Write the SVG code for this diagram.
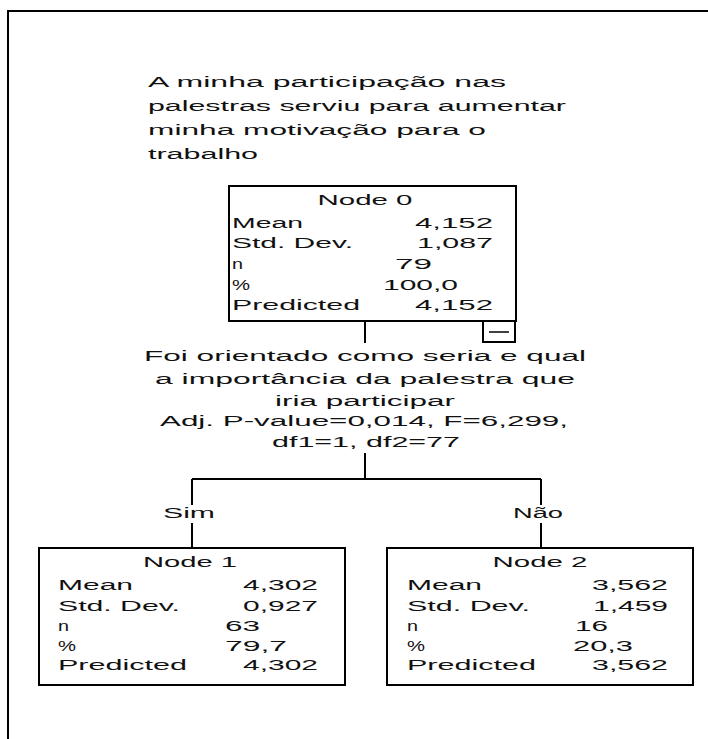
<svg xmlns="http://www.w3.org/2000/svg" width="708" height="739" viewBox="0 0 708 739">
  <style>
    text { font-family: "Liberation Sans", Arial, sans-serif; font-size: 14px; fill: #111; }
    .mid { text-anchor: middle; }
    .end { text-anchor: end; }
    .box { fill: #fff; stroke: #000; stroke-width: 2; }
    .ln { fill: none; stroke: #000; stroke-width: 2; }
    .thin { fill: none; stroke: #000; stroke-width: 1.5; }
  </style>
  <rect width="708" height="739" fill="#fff"/>
  <!-- outer frame -->
  <path class="ln" d="M8,739 V11 H708"/>

  <!-- dependent variable title -->
  <g id="title">
    <text x="148" y="87" textLength="358" lengthAdjust="spacingAndGlyphs">A minha participação nas</text>
    <text x="148" y="111" textLength="418" lengthAdjust="spacingAndGlyphs">palestras serviu para aumentar</text>
    <text x="148" y="135" textLength="338" lengthAdjust="spacingAndGlyphs">minha motivação para o</text>
    <text x="148" y="159" textLength="110" lengthAdjust="spacingAndGlyphs">trabalho</text>
  </g>

  <!-- connectors -->
  <g id="connectors">
    <path class="ln" d="M365,321 V343"/>
    <path class="ln" d="M365,453 V479"/>
    <path class="ln" d="M192,479 H541"/>
    <path class="ln" d="M192,479 V505 M192,523 V548"/>
    <path class="ln" d="M541,479 V505 M541,523 V548"/>
    <text class="mid" x="189" y="518" textLength="52" lengthAdjust="spacingAndGlyphs">Sim</text>
    <text class="mid" x="538" y="518" textLength="50" lengthAdjust="spacingAndGlyphs">Não</text>
  </g>

  <!-- split description -->
  <g id="split">
    <text class="mid" x="365" y="361" textLength="442" lengthAdjust="spacingAndGlyphs">Foi orientado como seria e qual</text>
    <text class="mid" x="365" y="384" textLength="420" lengthAdjust="spacingAndGlyphs">a importância da palestra que</text>
    <text class="mid" x="365" y="406" textLength="180" lengthAdjust="spacingAndGlyphs">iria participar</text>
    <text class="mid" x="364" y="426" textLength="408" lengthAdjust="spacingAndGlyphs">Adj. P-value=0,014, F=6,299,</text>
    <text class="mid" x="366" y="447" textLength="188" lengthAdjust="spacingAndGlyphs">df1=1, df2=77</text>
  </g>

  <!-- Node 0 -->
  <g id="node0">
    <rect class="box" x="229" y="186" width="287" height="135"/>
    <text class="mid" x="365" y="205" textLength="95" lengthAdjust="spacingAndGlyphs">Node 0</text>
    <text x="232" y="228" textLength="71" lengthAdjust="spacingAndGlyphs">Mean</text>
    <text class="end" x="493" y="228" textLength="78" lengthAdjust="spacingAndGlyphs">4,152</text>
    <text x="232" y="248" textLength="121" lengthAdjust="spacingAndGlyphs">Std. Dev.</text>
    <text class="end" x="493" y="248" textLength="76" lengthAdjust="spacingAndGlyphs">1,087</text>
    <text x="232" y="269" textLength="11" lengthAdjust="spacingAndGlyphs">n</text>
    <text x="395" y="269" textLength="37" lengthAdjust="spacingAndGlyphs">79</text>
    <text x="232" y="290" textLength="18" lengthAdjust="spacingAndGlyphs">%</text>
    <text x="383" y="290" textLength="75" lengthAdjust="spacingAndGlyphs">100,0</text>
    <text x="232" y="310" textLength="128" lengthAdjust="spacingAndGlyphs">Predicted</text>
    <text class="end" x="493" y="310" textLength="78" lengthAdjust="spacingAndGlyphs">4,152</text>
    <!-- collapse toggle -->
    <rect class="box" x="483" y="321" width="32" height="21"/>
    <path class="thin" d="M489,332 H509"/>
  </g>

  <!-- Node 1 -->
  <g id="node1">
    <rect class="box" x="39" y="548" width="306" height="137"/>
    <text class="mid" x="190" y="567" textLength="94" lengthAdjust="spacingAndGlyphs">Node 1</text>
    <text x="58" y="590" textLength="75" lengthAdjust="spacingAndGlyphs">Mean</text>
    <text class="end" x="318" y="590" textLength="75" lengthAdjust="spacingAndGlyphs">4,302</text>
    <text x="58" y="611" textLength="122" lengthAdjust="spacingAndGlyphs">Std. Dev.</text>
    <text class="end" x="318" y="611" textLength="75" lengthAdjust="spacingAndGlyphs">0,927</text>
    <text x="58" y="631" textLength="11" lengthAdjust="spacingAndGlyphs">n</text>
    <text x="225" y="631" textLength="35" lengthAdjust="spacingAndGlyphs">63</text>
    <text x="58" y="651" textLength="18" lengthAdjust="spacingAndGlyphs">%</text>
    <text x="225" y="651" textLength="62" lengthAdjust="spacingAndGlyphs">79,7</text>
    <text x="58" y="670" textLength="129" lengthAdjust="spacingAndGlyphs">Predicted</text>
    <text class="end" x="318" y="670" textLength="75" lengthAdjust="spacingAndGlyphs">4,302</text>
  </g>

  <!-- Node 2 -->
  <g id="node2">
    <rect class="box" x="387" y="548" width="306" height="137"/>
    <text class="mid" x="540" y="567" textLength="95" lengthAdjust="spacingAndGlyphs">Node 2</text>
    <text x="407" y="590" textLength="75" lengthAdjust="spacingAndGlyphs">Mean</text>
    <text class="end" x="668" y="590" textLength="76" lengthAdjust="spacingAndGlyphs">3,562</text>
    <text x="407" y="611" textLength="123" lengthAdjust="spacingAndGlyphs">Std. Dev.</text>
    <text class="end" x="668" y="611" textLength="75" lengthAdjust="spacingAndGlyphs">1,459</text>
    <text x="407" y="631" textLength="11" lengthAdjust="spacingAndGlyphs">n</text>
    <text x="575" y="631" textLength="33" lengthAdjust="spacingAndGlyphs">16</text>
    <text x="407" y="651" textLength="18" lengthAdjust="spacingAndGlyphs">%</text>
    <text x="573" y="651" textLength="60" lengthAdjust="spacingAndGlyphs">20,3</text>
    <text x="407" y="670" textLength="129" lengthAdjust="spacingAndGlyphs">Predicted</text>
    <text class="end" x="668" y="670" textLength="76" lengthAdjust="spacingAndGlyphs">3,562</text>
  </g>
</svg>
